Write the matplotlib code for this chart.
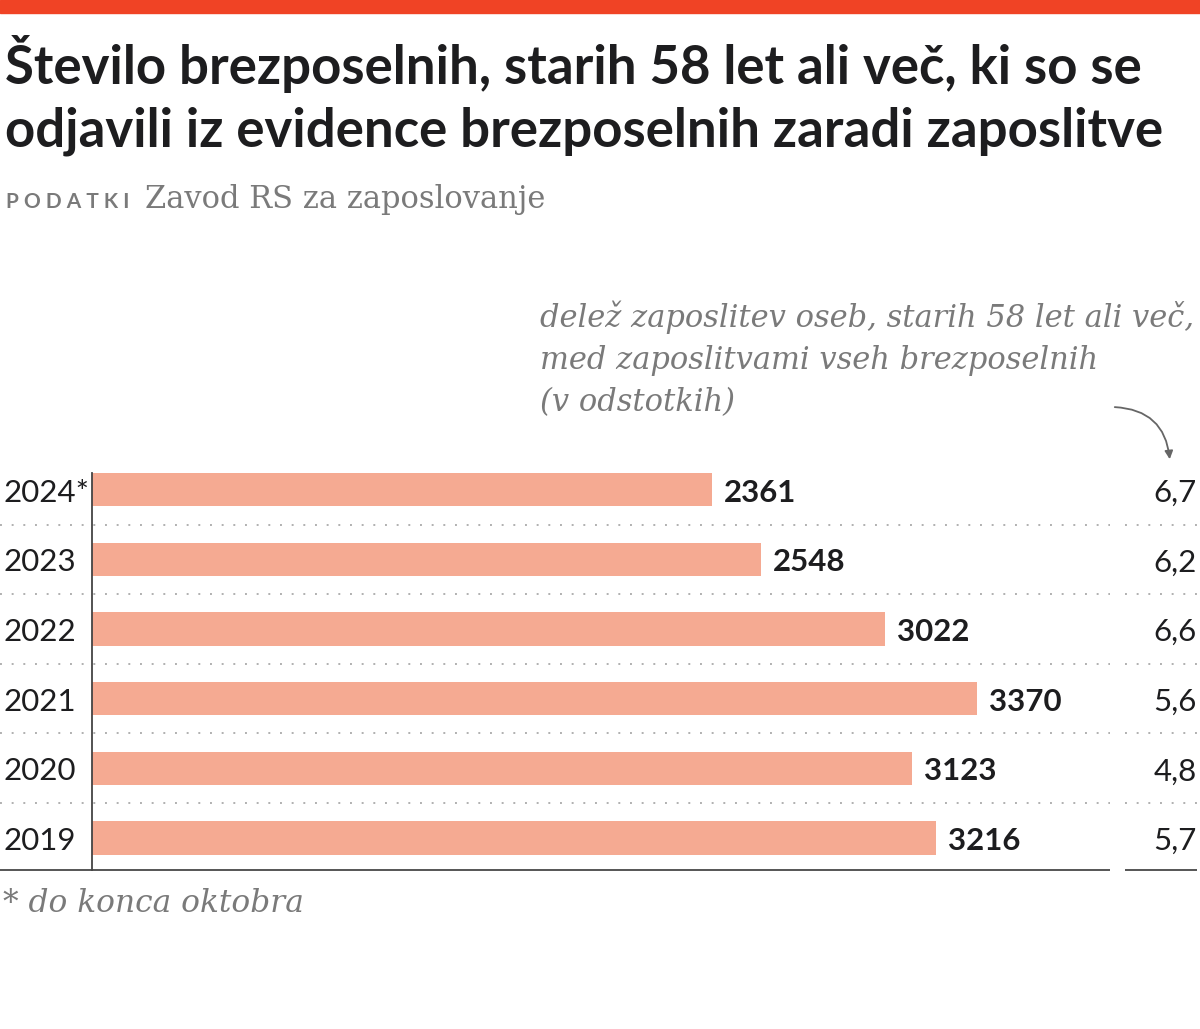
import matplotlib
matplotlib.use("Agg")
import matplotlib.pyplot as plt
from matplotlib.patches import Rectangle

years = ["2019", "2020", "2021", "2022", "2023", "2024*"]
counts = [3216, 3123, 3370, 3022, 2548, 2361]
shares = ["5,7", "4,8", "5,6", "6,6", "6,2", "6,7"]

title_lines = ["Število brezposelnih, starih 58 let ali več, ki so se",
               "odjavili iz evidence brezposelnih zaradi zaposlitve"]
note_lines = ["delež zaposlitev oseb, starih 58 let ali več,",
              "med zaposlitvami vseh brezposelnih",
              "(v odstotkih)"]
footnote = "* do konca oktobra"

W, H = 1200, 1029
SANS = "Lato"
SERIF = "DejaVu Serif"
BAR = "#f5aa92"
DARK = "#1d1d1f"
GREY = "#7a7a7a"

fig = plt.figure(figsize=(W / 100, H / 100), dpi=100)
fig.patch.set_facecolor("white")


def fx(x):
    return x / W


def fy(y):
    return 1 - y / H


# red stripe on top
fig.patches.append(Rectangle((0, fy(13)), 1, 13 / H, transform=fig.transFigure,
                             color="#f04325", zorder=0))

for i, line in enumerate(title_lines):
    fig.text(fx(5), fy(84 + 63 * i), line, fontsize=38, fontweight="bold",
             family=SANS, color=DARK, va="baseline")

fig.text(fx(6), fy(208), "P O D A T K I", fontsize=15, family=SANS,
         color=GREY, va="baseline", fontweight="bold")
fig.text(fx(145), fy(208), "Zavod RS za zaposlovanje", fontsize=22,
         family=SERIF, color=GREY, va="baseline")

for i, line in enumerate(note_lines):
    fig.text(fx(540), fy(327 + 42 * i), line, fontsize=22, family=SERIF,
             style="italic", color=GREY, va="baseline")

fig.text(fx(3), fy(912), footnote, fontsize=22.5, family=SERIF,
         style="italic", color=GREY, va="baseline")

# bar chart
ax = fig.add_axes([fx(92), fy(870), fx(1110 - 92), (870 - 473) / H])
pos = list(range(len(years)))
ax.barh(pos, counts, height=0.475, color=BAR, zorder=2)
ax.set_xlim(0, 3877)
ax.set_ylim(-0.46, 5.24)
for s in ["top", "right", "bottom"]:
    ax.spines[s].set_visible(False)
ax.spines["left"].set_color("#444444")
ax.spines["left"].set_linewidth(1.3)
ax.set_xticks([])
ax.set_yticks([])

tr = ax.get_yaxis_transform()
seps = [p + 0.5 for p in pos[:-1]]
ax.hlines(seps, -0.09, 1.0, transform=tr, colors="#b0b0b0",
          linestyles=(0, (1, 5)), linewidth=1.4, clip_on=False)
ax.hlines(seps, 1.0147, 1.0855, transform=tr, colors="#b0b0b0",
          linestyles=(0, (1, 5)), linewidth=1.4, clip_on=False)
ax.hlines([-0.46], -0.09, 1.0, transform=tr, colors="#555555",
          linewidth=1.4, clip_on=False)
ax.hlines([-0.46], 1.0147, 1.0855, transform=tr, colors="#555555",
          linewidth=1.4, clip_on=False)

for p, yr, c, sh in zip(pos, years, counts, shares):
    ax.annotate(yr, (-0.087, p), xycoords=tr, xytext=(0, -3),
                textcoords="offset pixels", ha="left", va="center",
                fontsize=22.5, family=SANS, color=DARK)
    ax.annotate(str(c), (c, p), xytext=(12, -3), textcoords="offset pixels",
                ha="left", va="center", fontsize=22.5, fontweight="bold",
                family=SANS, color=DARK)
    ax.annotate(sh, (1.0855, p), xycoords=tr, xytext=(0, -3),
                textcoords="offset pixels", ha="right", va="center",
                fontsize=22.5, family=SANS, color=DARK)

# curved arrow to the share column
ax.annotate("", xy=(fx(1170), fy(462)), xycoords="figure fraction",
            xytext=(fx(1112), fy(407)), textcoords="figure fraction",
            arrowprops=dict(arrowstyle="-|>", color="#666666", lw=1.3,
                            connectionstyle="arc3,rad=-0.45",
                            mutation_scale=12))

fig.savefig("out.png", dpi=100, facecolor="white")
